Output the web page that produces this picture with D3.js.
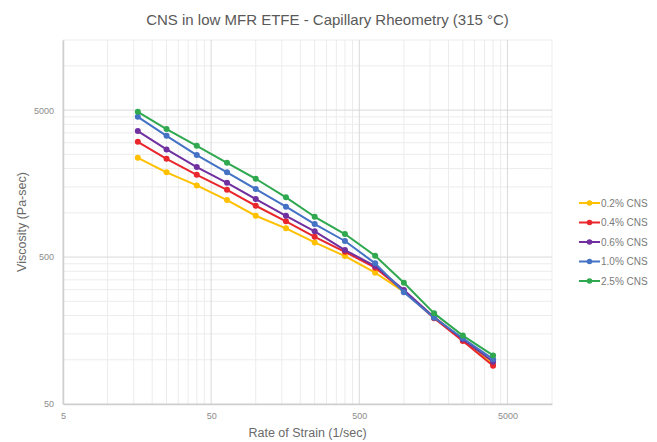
<!DOCTYPE html>
<html><head><meta charset="utf-8">
<script src="https://cdn.jsdelivr.net/npm/d3@7"></script>
<style>body{margin:0;background:#fff}svg{display:block;font-family:"Liberation Sans",Arial,sans-serif}</style>
</head><body><svg id="c" width="657" height="442"></svg>
<script>
const title = "CNS in low MFR ETFE - Capillary Rheometry (315 °C)";
const xTitle = "Rate of Strain (1/sec)";
const yTitle = "Viscosity (Pa-sec)";
const shearRates = [16, 25, 40, 64, 100, 160, 250, 400, 640, 1000, 1600, 2500, 4000];
const seriesNames = ["0.2% CNS", "0.4% CNS", "0.6% CNS", "1.0% CNS", "2.5% CNS"];
const seriesColors = ["#FFC000", "#E8262C", "#7030A0", "#4472C4", "#2FA84F"];
const cns02 = [2369, 1885, 1537, 1221, 955, 784, 629, 508, 391, 291, 195, 136, 94];
const cns04 = [3043, 2332, 1815, 1435, 1117, 875, 687, 543, 423, 294, 192, 134, 91];
const cns06 = [3598, 2702, 2047, 1601, 1240, 955, 748, 558, 434, 298, 195, 138, 97];
const cns10 = [4502, 3343, 2471, 1885, 1451, 1100, 839, 643, 453, 288, 193, 140, 101];
const cns25 = [4868, 3712, 2858, 2190, 1705, 1274, 940, 717, 510, 334, 207, 146, 107];
const seriesValues = [cns02, cns04, cns06, cns10, cns25];
const xTickValues = [5, 50, 500, 5000];
const yTickValues = [50, 500, 5000];
const xDomain = [5, 10000];
const yDomain = [50, 15000];

const svg = d3.select("#c");
const L = 63, R = 552, T = 40, B = 404;
const x = d3.scaleLog().domain(xDomain).range([L, R]);
const y = d3.scaleLog().domain(yDomain).range([B, T]);

function minorTicks(dom){
  const out=[];
  let base = dom[0];
  while (base < dom[1]) {
    for (let k=2;k<=9;k++){ const v = base*k; if (v<=dom[1]+1e-9 && v>dom[0]) out.push(v); }
    base *= 10;
  }
  return out;
}
const g = svg.append("g");
g.selectAll("line.xm").data(minorTicks(xDomain)).join("line")
  .attr("x1", d=>x(d)).attr("x2", d=>x(d)).attr("y1", T).attr("y2", B)
  .attr("stroke", "#ececec").attr("stroke-width", 1);
g.selectAll("line.ym").data(minorTicks(yDomain)).join("line")
  .attr("y1", d=>y(d)).attr("y2", d=>y(d)).attr("x1", L).attr("x2", R)
  .attr("stroke", "#ececec").attr("stroke-width", 1);
g.selectAll("line.xM").data(xTickValues).join("line")
  .attr("x1", d=>x(d)).attr("x2", d=>x(d)).attr("y1", T).attr("y2", B)
  .attr("stroke", "#d9d9d9").attr("stroke-width", 1);
g.selectAll("line.yM").data(yTickValues).join("line")
  .attr("y1", d=>y(d)).attr("y2", d=>y(d)).attr("x1", L).attr("x2", R)
  .attr("stroke", "#d9d9d9").attr("stroke-width", 1);

const xAxis = d3.axisBottom(x).tickValues(xTickValues).tickFormat(d3.format("d")).tickSize(0).tickPadding(9);
const yAxis = d3.axisLeft(y).tickValues(yTickValues).tickFormat(d3.format("d")).tickSize(0).tickPadding(9);
const gx = svg.append("g").attr("transform", `translate(0,${B})`).call(xAxis);
const gy = svg.append("g").attr("transform", `translate(${L},0)`).call(yAxis);
[gx, gy].forEach(a => {
  a.select(".domain").attr("stroke", "#cfcfcf").attr("stroke-width", 1.5);
  a.selectAll("text").attr("fill", "#8c8c8c").attr("font-size", 9);
});

const line = d3.line().x(d=>x(d[0])).y(d=>y(d[1]));
seriesValues.forEach((vals, i) => {
  const pts = shearRates.map((r, j) => [r, vals[j]]);
  svg.append("path").datum(pts).attr("d", line).attr("fill", "none")
    .attr("stroke", seriesColors[i]).attr("stroke-width", 2).attr("stroke-linejoin", "round");
  svg.append("g").selectAll("circle").data(pts).join("circle")
    .attr("cx", d=>x(d[0])).attr("cy", d=>y(d[1])).attr("r", 3)
    .attr("fill", seriesColors[i]);
});

svg.append("text").attr("x", 327.5).attr("y", 25).attr("text-anchor", "middle")
  .attr("font-size", 15).attr("fill", "#595959").text(title);
svg.append("text").attr("x", (L+R)/2).attr("y", 437).attr("text-anchor", "middle")
  .attr("font-size", 12.5).attr("fill", "#6a6a6a").text(xTitle);
svg.append("text").attr("transform", `translate(26,${(T+B)/2}) rotate(-90)`).attr("text-anchor", "middle")
  .attr("font-size", 12.5).attr("fill", "#6a6a6a").text(yTitle);

const lg = svg.append("g").attr("transform", "translate(579,203)");
seriesNames.forEach((n, i) => {
  const row = lg.append("g").attr("transform", `translate(0,${i*19.5})`);
  row.append("line").attr("x1", 0).attr("x2", 21).attr("y1", 0).attr("y2", 0)
    .attr("stroke", seriesColors[i]).attr("stroke-width", 2);
  row.append("circle").attr("cx", 10.5).attr("cy", 0).attr("r", 2.8).attr("fill", seriesColors[i]);
  row.append("text").attr("x", 22).attr("y", 3.5).attr("font-size", 10).attr("fill", "#7a7a7a").text(n);
});
</script></body></html>
